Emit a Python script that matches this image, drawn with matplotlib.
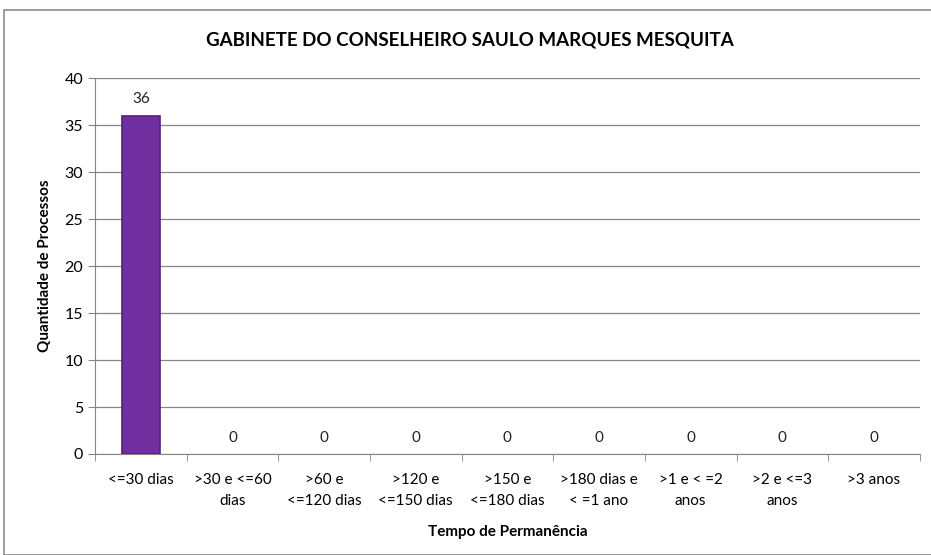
import matplotlib.pyplot as plt
from matplotlib.patches import Rectangle

plt.rcParams['font.family'] = ['Lato', 'DejaVu Sans']

categorias = ['<=30 dias', '>30 e <=60\ndias', '>60 e\n<=120 dias', '>120 e\n<=150 dias',
              '>150 e\n<=180 dias', '>180 dias e\n< =1 ano', '>1 e < =2\nanos', '>2 e <=3\nanos',
              '>3 anos']
processos = [36, 0, 0, 0, 0, 0, 0, 0, 0]

fig = plt.figure(figsize=(9.31, 5.55), dpi=100)
fig.patches.append(Rectangle((0.004, 0.0), 1.2, 0.982, transform=fig.transFigure,
                             fill=False, edgecolor='#8c8c8c', linewidth=1.2))
ax = fig.add_axes([0.102, 0.182, 0.886, 0.677])

x = list(range(len(categorias)))
bars = ax.bar(x, processos, width=0.42, color='#7030A0', edgecolor='#55207d', linewidth=1.2)
for b, v in zip(bars, processos):
    if v == 0:
        b.set_visible(False)
for xi, v in zip(x, processos):
    ax.text(xi, v + 1.0, str(v), ha='center', va='bottom', fontsize=11, color='#222222')

ax.set_xlim(-0.5, len(categorias) - 0.5)
ax.set_ylim(0, 40)
ax.set_yticks(range(0, 41, 5))
ax.set_xticks(x)
ax.set_xticklabels(categorias, fontsize=11, linespacing=1.6)
ax.set_xticks([i - 0.5 for i in range(len(categorias) + 1)], minor=True)
ax.tick_params(axis='x', which='major', length=0, pad=14)
ax.tick_params(axis='x', which='minor', length=5, color='#868686')
ax.tick_params(axis='y', length=5, color='#868686', labelsize=11.5)
ax.yaxis.grid(True, color='#868686', linewidth=0.9)
ax.set_axisbelow(True)
for s in ['top', 'right']:
    ax.spines[s].set_visible(False)
for s in ['left', 'bottom']:
    ax.spines[s].set_color('#868686')

ax.set_xlabel('Tempo de Permanência', fontsize=11, fontweight='bold', labelpad=12)
ax.set_ylabel('Quantidade de Processos', fontsize=11, fontweight='bold', labelpad=9)
fig.text(0.505, 0.928, 'GABINETE DO CONSELHEIRO SAULO MARQUES MESQUITA',
         ha='center', va='center', fontsize=13.5, fontweight='bold')

fig.savefig('out.png', dpi=100)
